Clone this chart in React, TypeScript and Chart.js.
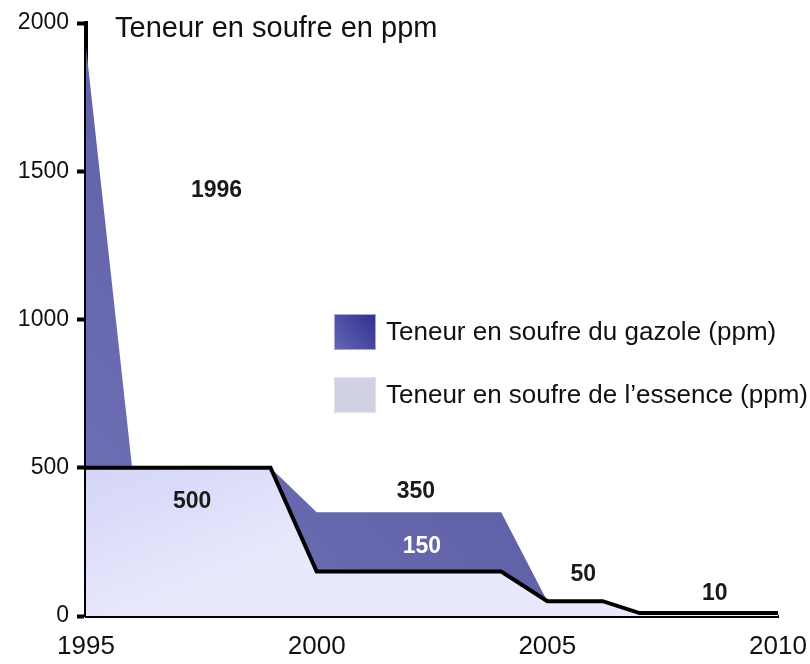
import React, { useEffect, useRef } from "react";
import { Chart, registerables } from "chart.js";

Chart.register(...registerables);

// ---- data ----
const years = [1995, 1996, 1999, 2000, 2004, 2005, 2006.2, 2007, 2010];
const diesel = [1920, 500, 500, 350, 350, 50, 50, 10, 10];
const essence = [500, 500, 500, 150, 150, 50, 50, 10, 10];
const xTicks = [1995, 2000, 2005, 2010];
const yTicks = [0, 500, 1000, 1500, 2000];
const labelTexts = ["1996", "500", "350", "150", "50", "10"];
const labelYears = [1997.83, 1997.3, 2002.15, 2002.28, 2005.78, 2008.63];
const labelValues = [1433, 385, 419, 233, 139, 74];
const legendLabels = [
  "Teneur en soufre du gazole (ppm)",
  "Teneur en soufre de l\u2019essence (ppm)",
];
const titleText = "Teneur en soufre en ppm";

const FONT = "'Liberation Sans', Arial, sans-serif";

const overlayPlugin = {
  id: "overlay",
  afterDatasetsDraw(chart: any) {
    const { ctx, scales } = chart;
    const xs = scales.x;
    const ys = scales.y;
    ctx.save();
    // title
    ctx.fillStyle = "#111";
    ctx.font = `29px ${FONT}`;
    ctx.textAlign = "left";
    ctx.textBaseline = "alphabetic";
    ctx.fillText(titleText, 115, 37);

    // value labels
    ctx.font = `bold 23px ${FONT}`;
    ctx.textAlign = "center";
    ctx.textBaseline = "middle";
    labelTexts.forEach((t, i) => {
      ctx.fillStyle = t === "150" ? "#ffffff" : "#1a1a1a";
      ctx.fillText(t, xs.getPixelForValue(labelYears[i]), ys.getPixelForValue(labelValues[i]));
    });

    // legend
    const bx = 334, bw = 42, bh = 36;
    const rows = [314, 377];
    rows.forEach((by, i) => {
      if (i === 0) {
        const g = ctx.createLinearGradient(bx, by + bh, bx + bw, by);
        g.addColorStop(0, "#6767b3");
        g.addColorStop(1, "#2f2f92");
        ctx.fillStyle = g;
      } else {
        ctx.fillStyle = "#d1d1e4";
      }
      ctx.fillRect(bx, by, bw, bh);
      ctx.strokeStyle = i === 0 ? "#a8a8d8" : "#e2e2ee";
      ctx.lineWidth = 1;
      ctx.strokeRect(bx + 0.5, by + 0.5, bw - 1, bh - 1);
      ctx.fillStyle = "#111";
      ctx.font = `26px ${FONT}`;
      ctx.textAlign = "left";
      ctx.textBaseline = "middle";
      ctx.fillText(legendLabels[i], 386, by + bh / 2 + 1);
    });
    ctx.restore();
  },
};

export default function App() {
  const canvasRef = useRef<HTMLCanvasElement | null>(null);

  useEffect(() => {
    if (!canvasRef.current) return;
    const chart = new Chart(canvasRef.current, {
      type: "line",
      data: {
        datasets: [
          {
            label: legendLabels[1],
            data: years.map((x, i) => ({ x, y: essence[i] })),
            borderColor: "#000000",
            borderWidth: 4,
            pointRadius: 0,
            tension: 0,
            fill: "origin",
            backgroundColor: (c: any) => {
              const area = c.chart.chartArea;
              if (!area) return "#dcdcf8";
              const g = c.chart.ctx.createLinearGradient(area.left, ys(c, 500), area.left + 60, area.bottom);
              g.addColorStop(0, "#d4d4f7");
              g.addColorStop(1, "#e9e9fd");
              return g;
            },
          },
          {
            label: legendLabels[0],
            data: years.map((x, i) => ({ x, y: diesel[i] })),
            borderWidth: 0,
            borderColor: "rgba(0,0,0,0)",
            pointRadius: 0,
            tension: 0,
            fill: "-1",
            backgroundColor: (c: any) => {
              const area = c.chart.chartArea;
              if (!area) return "#6565ad";
              const g = c.chart.ctx.createLinearGradient(area.left, area.bottom, area.right, area.top);
              g.addColorStop(0, "#7272b7");
              g.addColorStop(0.5, "#5e5ea6");
              g.addColorStop(1, "#4c4c9a");
              return g;
            },
          },
        ],
      },
      options: {
        animation: false,
        responsive: true,
        maintainAspectRatio: false,
        layout: { padding: { top: 23, right: 32, left: 0, bottom: 0 } },
        plugins: {
          legend: { display: false },
          tooltip: { enabled: false },
          title: { display: false },
        },
        scales: {
          x: {
            type: "linear",
            min: xTicks[0],
            max: xTicks[xTicks.length - 1],
            afterBuildTicks: (s: any) => {
              s.ticks = xTicks.map((v) => ({ value: v }));
            },
            afterFit: (s: any) => {
              s.height = 48;
              s.paddingRight = 0;
              s.paddingLeft = 0;
            },
            grid: { display: true, drawOnChartArea: false, drawTicks: false, color: "rgba(0,0,0,0)" },
            border: { display: true, color: "#000000", width: 3 },
            ticks: {
              padding: 15,
              color: "#111",
              font: { family: FONT, size: 26 },
              callback: (v: any) => String(v),
              maxRotation: 0,
              autoSkip: false,
            },
          },
          y: {
            type: "linear",
            min: yTicks[0],
            max: yTicks[yTicks.length - 1],
            afterBuildTicks: (s: any) => {
              s.ticks = yTicks.map((v) => ({ value: v }));
            },
            afterFit: (s: any) => {
              s.width = 86;
            },
            grid: {
              display: true,
              drawOnChartArea: false,
              drawTicks: true,
              tickLength: 9,
              tickWidth: 4,
              color: "#000000",
            },
            border: { display: true, color: "#000000", width: 4 },
            ticks: {
              padding: 8,
              color: "#111",
              font: { family: FONT, size: 23 },
              callback: (v: any) => String(v),
            },
          },
        },
      },
      plugins: [overlayPlugin],
    } as any);
    return () => chart.destroy();
  }, []);

  return (
    <div style={{ position: "absolute", left: 0, top: 0, width: 810, height: 664, background: "#fff" }}>
      <canvas ref={canvasRef} />
    </div>
  );
}

function ys(c: any, v: number) {
  const s = c.chart.scales && c.chart.scales.y;
  return s ? s.getPixelForValue(v) : c.chart.chartArea.top;
}
